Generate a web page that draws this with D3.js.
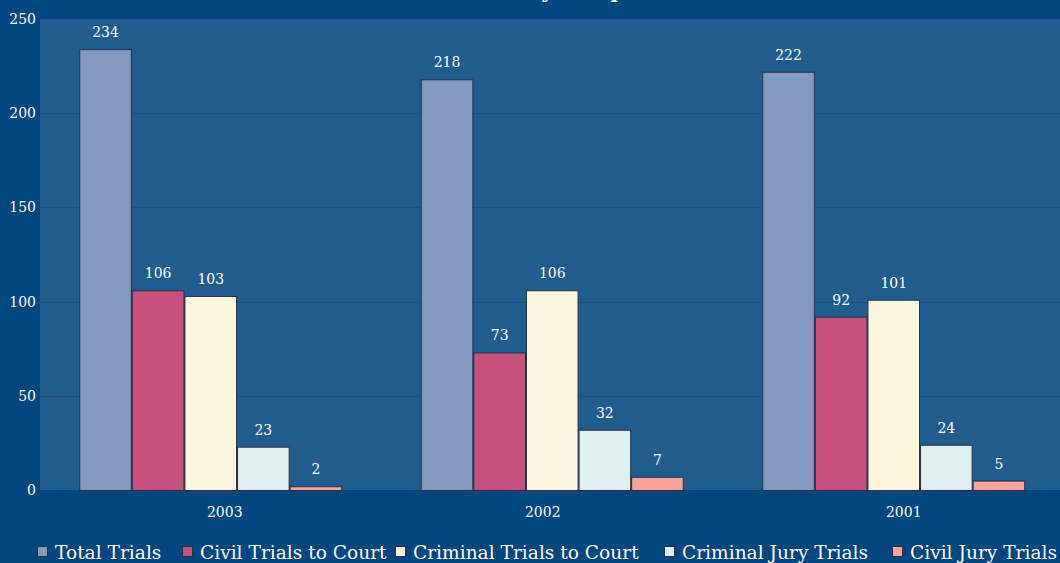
<!DOCTYPE html>
<html><head><meta charset="utf-8">
<script src="https://cdn.jsdelivr.net/npm/d3@7"></script>
<style>body{margin:0;background:#00467f;} svg{display:block;}</style>
</head><body>
<script>
const categories = ["2003", "2002", "2001"];
const seriesNames = ["Total Trials", "Civil Trials to Court", "Criminal Trials to Court", "Criminal Jury Trials", "Civil Jury Trials"];
const totalTrials = [234, 218, 222];
const civilTrialsToCourt = [106, 73, 92];
const criminalTrialsToCourt = [103, 106, 101];
const criminalJuryTrials = [23, 32, 24];
const civilJuryTrials = [2, 7, 5];
const yTicks = [0, 50, 100, 150, 200, 250];
const colors = ["#8499c0", "#c5537e", "#fcf6df", "#e0f0ef", "#f7a39a"];
const titleText = "Yearly Comparison";

const seriesValues = [totalTrials, civilTrialsToCourt, criminalTrialsToCourt, criminalJuryTrials, civilJuryTrials];

const W = 1060, H = 563;
const svg = d3.select("body").append("svg").attr("width", W).attr("height", H);
svg.append("rect").attr("width", W).attr("height", H).attr("fill", "#00467f");

const plotL = 40, plotR = 1064.5, plotT = 19, plotB = 490;
const font = "'DejaVu Serif', serif";

svg.append("rect").attr("x", plotL).attr("y", plotT).attr("width", W - plotL).attr("height", plotB - plotT).attr("fill", "#215c8f");

const y = d3.scaleLinear().domain([0, 250]).range([plotB, plotT]);
const x0 = d3.scaleBand().domain(categories).range([plotL, plotR]).paddingInner(0).paddingOuter(0);
const inner = 263;
const off = (x0.bandwidth() - inner) / 2;
const x1 = d3.scaleBand().domain(seriesNames).range([off, off + inner]);

// gridlines
svg.append("g").selectAll("line").data(yTicks.filter(t => t > 0 && t < 250)).join("line")
  .attr("x1", plotL).attr("x2", W).attr("y1", d => Math.round(y(d)) + 0.5).attr("y2", d => Math.round(y(d)) + 0.5)
  .attr("stroke", "#1a5287").attr("stroke-width", 1);

// y axis
const yAxis = d3.axisLeft(y).tickValues(yTicks).tickSize(0).tickPadding(4).tickFormat(d3.format("d"));
const ya = svg.append("g").attr("transform", `translate(${plotL},0)`).call(yAxis);
ya.select(".domain").remove();
ya.selectAll("text").attr("fill", "#ffffff").style("font-family", font).style("font-size", "14px");

// x axis
const labelNudge = [14, -9.5, 10];
const xAxis = d3.axisBottom(x0).tickSize(0).tickPadding(17);
const xa = svg.append("g").attr("transform", `translate(0,${plotB})`).call(xAxis);
xa.select(".domain").remove();
xa.selectAll("text").attr("fill", "#ffffff").style("font-family", font).style("font-size", "14px")
  .attr("dx", (d, i) => labelNudge[i]);

// bars
const rows = categories.map((c, i) => ({ cat: c, vals: seriesNames.map((s, j) => ({ s, j, v: seriesValues[j][i] })) }));
const g = svg.append("g").selectAll("g").data(rows).join("g").attr("transform", d => `translate(${x0(d.cat)},0)`);
g.selectAll("rect").data(d => d.vals).join("rect")
  .attr("x", d => x1(d.s) + 0.5).attr("y", d => y(d.v) + 0.5)
  .attr("width", x1.bandwidth() - 1).attr("height", d => y(0) - y(d.v))
  .attr("fill", d => colors[d.j]).attr("stroke", "#2b2f45").attr("stroke-width", 1);
g.selectAll("text").data(d => d.vals).join("text")
  .attr("x", d => x1(d.s) + x1.bandwidth() / 2).attr("y", d => y(d.v) - 12)
  .attr("text-anchor", "middle").attr("fill", "#ffffff")
  .style("font-family", font).style("font-size", "14px").text(d => d.v);

// title (clipped at top, as in the reference)
svg.append("text").attr("x", 590).attr("y", -2).attr("text-anchor", "middle")
  .attr("fill", "#ffffff").style("font-family", font).style("font-size", "20px").style("font-weight", "bold").text(titleText);

// legend
const legX = [37, 182, 395, 664, 892];
const lg = svg.append("g").selectAll("g").data(seriesNames).join("g")
  .attr("transform", (d, i) => `translate(${legX[i]},552)`);
lg.append("rect").attr("x", 0.5).attr("y", -5.5).attr("width", 10).attr("height", 10)
  .attr("fill", (d, i) => colors[i]).attr("stroke", "#2b2f45");
lg.append("text").attr("x", 18).attr("y", 7).attr("fill", "#ffffff")
  .style("font-family", font).style("font-size", "18.6px").text(d => d);
</script>
</body></html>
